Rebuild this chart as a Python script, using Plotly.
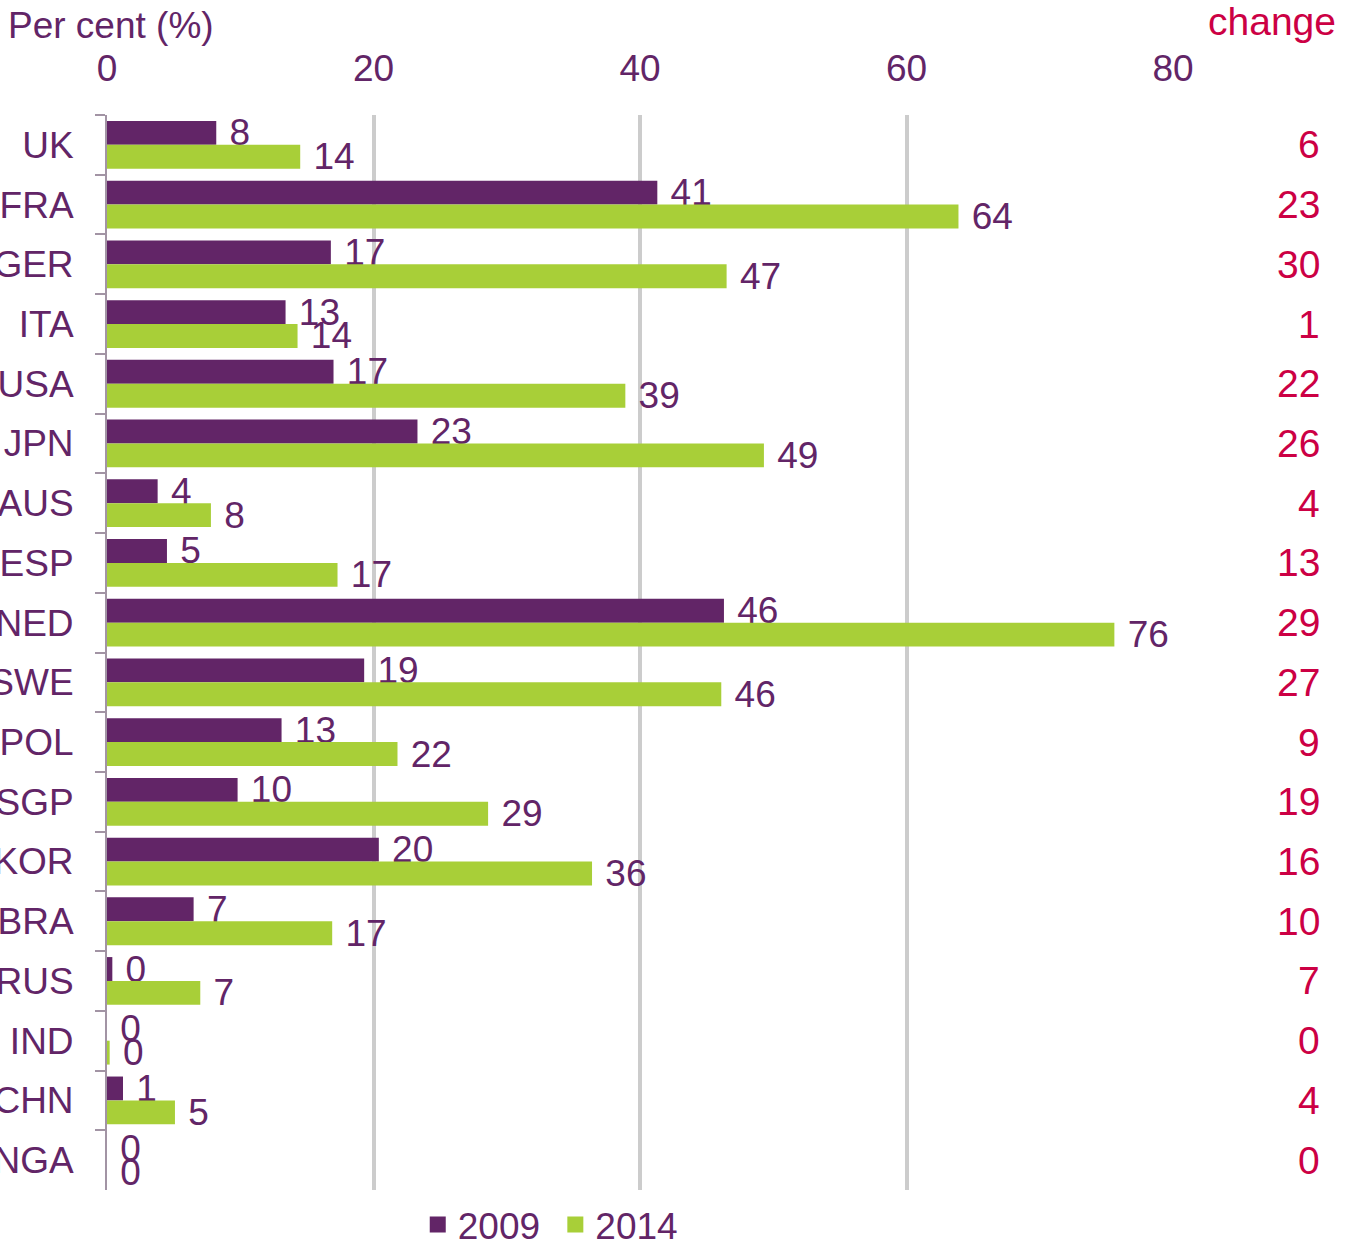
import plotly.graph_objects as go

countries = ["UK", "FRA", "GER", "ITA", "USA", "JPN", "AUS", "ESP", "NED", "SWE",
             "POL", "SGP", "KOR", "BRA", "RUS", "IND", "CHN", "NGA"]
values_2009 = [8.2, 41.3, 16.8, 13.4, 17.0, 23.3, 3.8, 4.5, 46.3, 19.3,
               13.1, 9.8, 20.4, 6.5, 0.4, 0.0, 1.2, 0.0]
values_2014 = [14.5, 63.9, 46.5, 14.3, 38.9, 49.3, 7.8, 17.3, 75.6, 46.1,
               21.8, 28.6, 36.4, 16.9, 7.0, 0.2, 5.1, 0.0]
labels_2009 = [8, 41, 17, 13, 17, 23, 4, 5, 46, 19, 13, 10, 20, 7, 0, 0, 1, 0]
labels_2014 = [14, 64, 47, 14, 39, 49, 8, 17, 76, 46, 22, 29, 36, 17, 7, 0, 5, 0]
change = [6, 23, 30, 1, 22, 26, 4, 13, 29, 27, 9, 19, 16, 10, 7, 0, 4, 0]
x_ticks = [0, 20, 40, 60, 80]

PURPLE = "#622567"
GREEN = "#a8cf38"
RED = "#cc0044"
AXIS = "#a294a4"
FONT = "Liberation Sans, Arial, sans-serif"
FS = 37
FS_CH = 39

fig = go.Figure()
for name, vals, labs, col in [("2009", values_2009, labels_2009, PURPLE),
                              ("2014", values_2014, labels_2014, GREEN)]:
    fig.add_trace(go.Bar(
        y=countries, x=vals, name=name, orientation="h",
        marker=dict(color=col, line=dict(width=0)),
        text=["\u00a0" + str(v) for v in labs],
        textposition="outside", constraintext="none", cliponaxis=False,
        textfont=dict(family=FONT, size=FS, color=PURPLE),
        hoverinfo="skip", showlegend=False,
    ))

# legend-only entries with square markers
for name, col in [("2009\u00a0", PURPLE), ("2014", GREEN)]:
    fig.add_trace(go.Scatter(x=[None], y=[None], mode="markers", name=name,
                             marker=dict(symbol="square", size=16, color=col),
                             hoverinfo="skip", showlegend=True))

for c, v in zip(countries, change):
    fig.add_annotation(x=1.1398, xref="paper", y=c, yref="y", text=str(v),
                       showarrow=False, xanchor="right", yanchor="middle",
                       font=dict(family=FONT, size=FS_CH, color=RED))

fig.add_annotation(x=1.1548, xref="paper", y=1.087, yref="paper", text="change",
                   showarrow=False, xanchor="right", yanchor="middle",
                   font=dict(family=FONT, size=FS_CH, color=RED))
fig.add_annotation(x=-0.0947, xref="paper", y=1.0837, yref="paper", text="Per cent (%)",
                   showarrow=False, xanchor="left", yanchor="middle",
                   font=dict(family=FONT, size=FS, color=PURPLE))

fig.update_layout(
    width=1352, height=1242,
    margin=dict(l=107, r=179, t=115, b=52, autoexpand=False),
    paper_bgcolor="white", plot_bgcolor="white",
    barmode="group", bargap=0.2, bargroupgap=0,
    showlegend=True,
    legend=dict(orientation="h", x=0.4158, xanchor="center", y=-0.0326, yanchor="middle",
                font=dict(family=FONT, size=FS, color=PURPLE),
                itemwidth=30, tracegroupgap=0, bgcolor="rgba(0,0,0,0)"),
    xaxis=dict(side="top", range=[0, 80], tickvals=x_ticks, ticktext=[str(t) for t in x_ticks],
               showgrid=True, gridcolor="#cccccc", gridwidth=4, zeroline=False,
               showline=False, ticks="outside", ticklen=18, tickcolor="rgba(0,0,0,0)",
               tickfont=dict(family=FONT, size=FS, color=PURPLE), automargin=False),
    yaxis=dict(autorange="reversed", showline=True, linecolor=AXIS, linewidth=2,
               ticks="outside", tickson="boundaries", ticklen=10, tickcolor=AXIS,
               tickwidth=2, showgrid=False, zeroline=False, ticklabelstandoff=24,
               tickfont=dict(family=FONT, size=FS, color=PURPLE), automargin=False),
)

fig.write_html("out.html", config={"displayModeBar": False},
               post_script="document.body.style.margin='0px';")
